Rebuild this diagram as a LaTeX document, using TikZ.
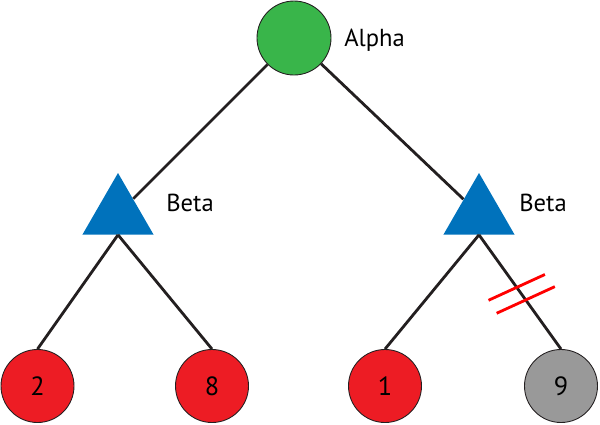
\documentclass[tikz,border=0pt]{standalone}
\usepackage{fontspec}
\setmainfont{PT Sans}
\usepackage{tikz}
\usetikzlibrary{shapes.geometric,calc}

\definecolor{maxgreen}{RGB}{57,181,74}
\definecolor{minblue}{RGB}{0,114,188}
\definecolor{leafred}{RGB}{237,28,36}
\definecolor{prunegray}{RGB}{153,153,153}
\definecolor{outline}{RGB}{35,31,32}

\begin{document}
\begin{tikzpicture}[
  maxnode/.style={circle, draw=outline, line width=0.5pt, fill=maxgreen, minimum size=1.48cm, inner sep=0pt},
  minnode/.style={regular polygon, regular polygon sides=3, fill=minblue, minimum size=1.64cm, inner sep=0pt},
  leaf/.style={circle, draw=outline, line width=0.5pt, fill=leafred, minimum size=1.46cm, inner sep=0pt, font=\fontsize{15}{17}\selectfont},
  tag/.style={anchor=west, inner sep=0pt, font=\fontsize{14}{16}\selectfont},
  edge/.style={line width=1.6pt, draw=outline},
  cut/.style={line width=1.6pt, draw=red}
]
\useasboundingbox (0,0) rectangle (12,-8.48);

% tree
\node[maxnode] (root) at (5.88,-0.76) {};
\node[minnode] (lb) at (2.36,-4.28) {};
\node[minnode] (rb) at (9.58,-4.28) {};
\node[leaf] (l2) at (0.75,-7.72) {2};
\node[leaf] (l8) at (4.24,-7.72) {8};
\node[leaf] (l1) at (7.70,-7.72) {1};
\node[leaf, fill=prunegray] (l9) at (11.22,-7.72) {9};

% labels
\node[tag] (talpha) at (6.88,-0.80) {Alpha};
\node[tag] (tbl) at (3.32,-4.06) {Beta};
\node[tag] (tbr) at (10.38,-4.06) {Beta};

% edges
\draw[edge] (root) -- (lb);
\draw[edge] (root) -- (rb);
\draw[edge] (lb.side 2) -- (l2.north);
\draw[edge] (lb.side 2) -- (l8.north);
\draw[edge] (rb.side 2) -- (l1.north);
\draw[edge] (rb.side 2) -- (l9.north);

% pruned branch
\path (rb.side 2) -- (l9.north) coordinate[pos=0.46] (c1) coordinate[pos=0.57] (c2);
\draw[cut] ($(c1)+(204.6:0.62)$) -- ($(c1)+(24.6:0.62)$);
\draw[cut] ($(c2)+(204.6:0.64)$) -- ($(c2)+(24.6:0.64)$);
\end{tikzpicture}
\end{document}
